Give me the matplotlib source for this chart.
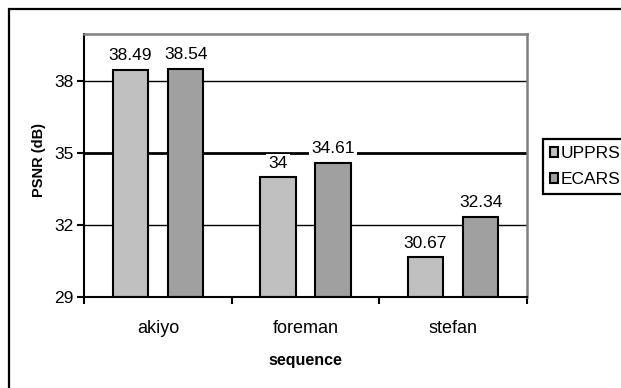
import matplotlib
matplotlib.use('Agg')
import matplotlib.pyplot as plt
from matplotlib.patches import Rectangle, Patch
import numpy as np

plt.rcParams['font.family'] = ['Liberation Sans', 'DejaVu Sans']

sequences = ['akiyo', 'foreman', 'stefan']
series_names = ['UPPRS', 'ECARS']
upprs = [38.49, 34, 30.67]
ecars = [38.54, 34.61, 32.34]
value_labels = [['38.49', '34', '30.67'], ['38.54', '34.61', '32.34']]
yticks = [29, 32, 35, 38]

colors = ['#c0c0c0', '#a0a0a0']

fig = plt.figure(figsize=(6.21, 3.88), dpi=100)
ax = fig.add_axes([84.4 / 621, 1 - 297.3 / 388, (526.7 - 84.4) / 621, (297.3 - 33.5) / 388])

# outer chart frame, runs off the right and bottom edges
fig.patches.append(Rectangle((8.5 / 621, -0.2), 1.5, 1.2 - 8.5 / 388,
                             transform=fig.transFigure, fill=False,
                             edgecolor='black', linewidth=1.6))

x = np.arange(len(sequences))
width = 0.24
offsets = [-0.187, 0.187]

# horizontal gridlines (the middle one is drawn heavier)
for yv, lw in zip([32, 35, 38], [1.0, 2.0, 1.0]):
    ax.axhline(yv, color='black', linewidth=lw, zorder=1)

for i, vals in enumerate([upprs, ecars]):
    bars = ax.bar(x + offsets[i], np.array(vals) - 29, width, bottom=29,
                  color=colors[i], edgecolor='black', linewidth=1.5, zorder=2)
    for b, v, lab in zip(bars, vals, value_labels[i]):
        ax.annotate(lab, (b.get_x() + b.get_width() / 2, v),
                    xytext=(0, 7), textcoords='offset points',
                    ha='center', va='baseline', fontsize=12.5, zorder=3,
                    bbox=dict(facecolor='white', edgecolor='none', pad=1.5))

ax.set_xlim(-0.5, 2.5)
ax.set_ylim(29, 40)
ax.set_yticks(yticks)
ax.set_yticklabels([str(t) for t in yticks], fontsize=12.5)
ax.set_xticks([-0.5, 0.5, 1.5, 2.5])
ax.set_xticklabels([])
ax.set_xticks(x, minor=True)
ax.set_xticklabels(sequences, minor=True, fontsize=13)
ax.tick_params(axis='x', which='major', length=5, width=1.5, direction='out')
ax.tick_params(axis='x', which='minor', length=0, pad=16)
ax.tick_params(axis='y', length=5, width=1.5, direction='out', pad=3)

for side in ['left', 'bottom']:
    ax.spines[side].set_color('black')
    ax.spines[side].set_linewidth(1.5)
for side in ['top', 'right']:
    ax.spines[side].set_color('#808080')
    ax.spines[side].set_linewidth(1.8)

ax.set_ylabel('PSNR (dB)', fontsize=10.5, fontweight='bold', labelpad=6)
ax.yaxis.label.set_y(0.52)
ax.set_xlabel('sequence', fontsize=11.5, fontweight='bold', labelpad=12)

handles = [Patch(facecolor=c, edgecolor='black', linewidth=1.5) for c in colors]
fig.legend(handles, series_names, loc='upper left',
           bbox_to_anchor=(542.7 / 621, 1 - 139.3 / 388), borderaxespad=0,
           fontsize=12.5, handlelength=0.5, handleheight=0.5, handletextpad=0.12,
           borderpad=0.4, labelspacing=0.62, frameon=True, fancybox=False,
           edgecolor='black', framealpha=1)
leg = fig.legends[0]
leg.get_frame().set_linewidth(1.6)

fig.savefig('out.png', dpi=100)
